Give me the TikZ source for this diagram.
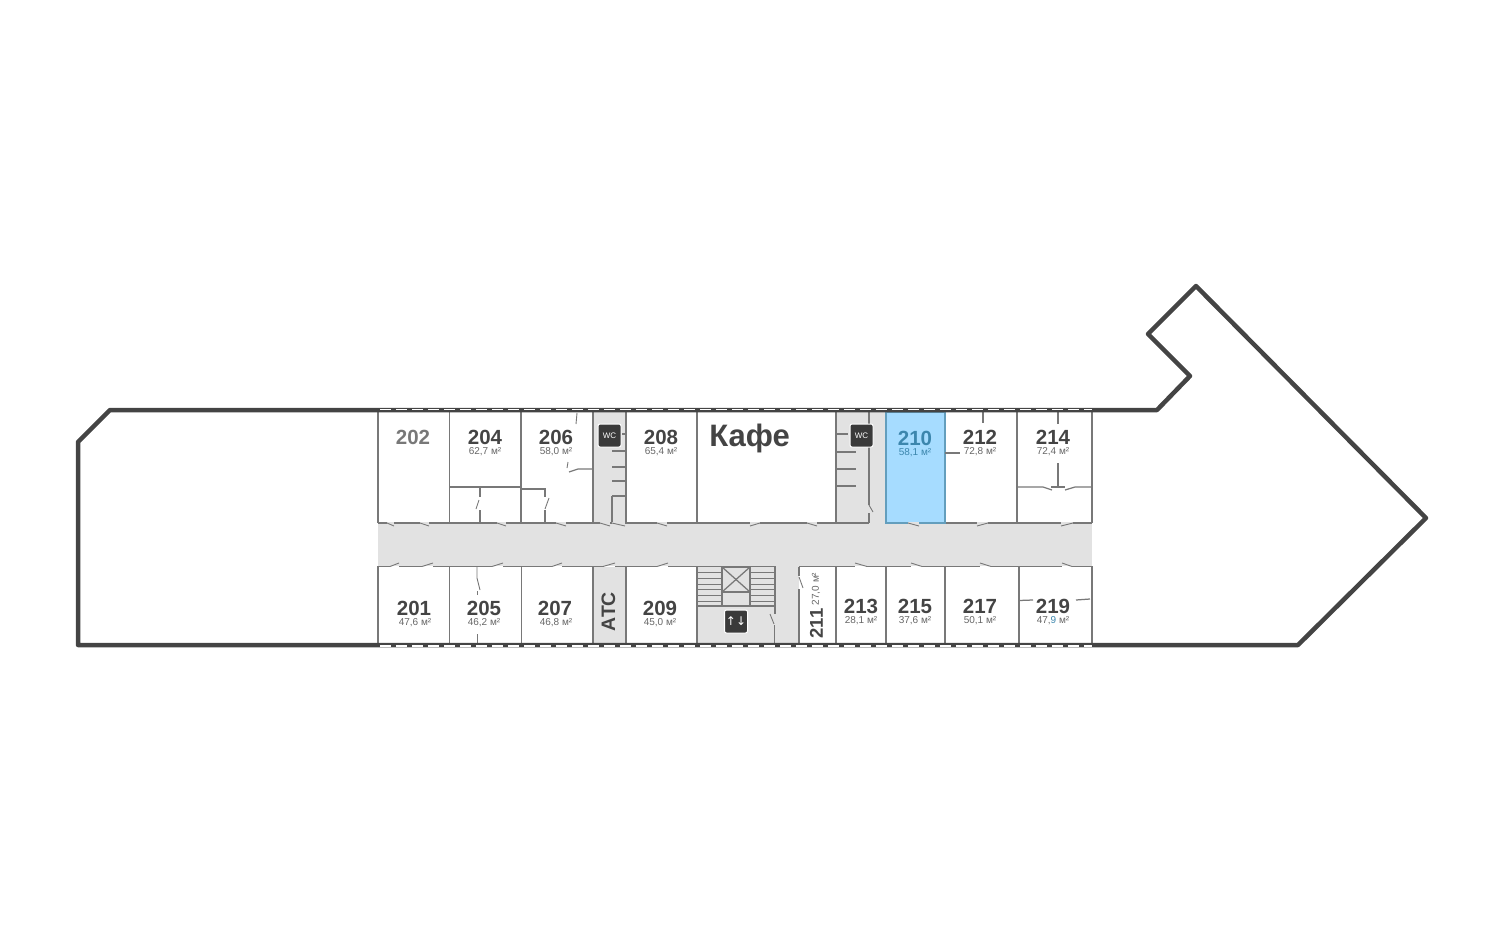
\documentclass[tikz,border=0pt]{standalone}
\usepackage{fontspec}
\setmainfont{Liberation Sans}
\newfontfamily\arrowfont{DejaVu Sans}
\definecolor{wallgray}{HTML}{787878}
\definecolor{areagray}{HTML}{666666}
\definecolor{outline}{HTML}{444444}
\definecolor{corridor}{HTML}{E2E2E2}
\definecolor{roomblue}{HTML}{A6DCFF}
\definecolor{textblue}{HTML}{3C86AD}
\definecolor{icondark}{HTML}{3A3A3A}
\begin{document}
\begin{tikzpicture}[x=1pt, y=-1pt]
			% Define styles
			\tikzstyle{wall} = [draw=wallgray, line width=1.25pt]
			\tikzstyle{thinwall} = [draw=wallgray, line width=0.9pt]
			\tikzstyle{outer} = [draw=outline, line width=4.5pt, line join=round, line cap=round]
			\tikzstyle{glass} = [draw=white, line width=1.7pt, dash pattern=on 11pt off 5pt]
			\tikzstyle{number} = [anchor=base, inner sep=0pt, text=outline, font=\bfseries\fontsize{20.5}{20}\selectfont]
			\tikzstyle{area} = [anchor=base, inner sep=0pt, text=areagray, font=\fontsize{10}{10}\selectfont]
			\tikzstyle{badge} = [rectangle, rounded corners=2pt, minimum size=23pt, inner sep=0pt, fill=icondark, draw=white, line width=1pt, text=white]
			\useasboundingbox (0,0) rectangle (1500,950);
			
			% Grey floors
			\fill[corridor] (378,523) rectangle (1092,566);
			\fill[corridor] (593,412) rectangle (626,523);
			\fill[corridor] (836,412) rectangle (886,523);
			\fill[corridor] (593,566) rectangle (626,643);
			\fill[corridor] (697,566) rectangle (799,643);
			\fill[roomblue] (886,412) rectangle (945,523);
			
			% Room walls
			\foreach \xpos in {378,449.5,521,593,626,697,836,886,945,1017,1092}
				\draw[wall] (\xpos,412) -- (\xpos,523);
			\foreach \xpos in {378,449.5,521.5,593,626,697,836,886,945,1019,1092}
				\draw[wall] (\xpos,566) -- (\xpos,643);
			\draw[wall] (378,523) -- (869,523);
			\draw[wall] (886,523) -- (1092,523);
			\draw[wall] (378,566.5) -- (775,566.5);
			\draw[wall] (799,566.5) -- (1092,566.5);
			\draw[draw=textblue!80, line width=1.25pt] (886,412) rectangle (945,523);
			
			% Doors in the corridor
			\foreach \xa/\xb in {387/394,420/429,497/506,556/566,600/610,612/625,657/667,760/750,807/817,908/919,988/977,1073/1061}{
				\draw[draw=corridor, line width=1.8pt] (\xa,523) -- (\xb,523);
				\draw[thinwall] (\xa,523) -- (\xb,526);
			}
			\foreach \xa/\xb in {390/399,422/433,492/503,552/562,603/615,657/668,867/855,922/911,991/980,1072/1062}{
				\draw[draw=white, line width=1.8pt] (\xa,566.5) -- (\xb,566.5);
				\draw[thinwall] (\xa,566.5) -- (\xb,563);
			}
			
			% Inner walls, top row
			\draw[wall] (449.5,487) -- (521,487);
			\draw[wall] (480,487) -- (480,497);
			\draw[thinwall] (479,500) -- (476,509);
			\draw[wall] (480,510) -- (480,523);
			\draw[wall] (521,489) -- (545,489) -- (545,497);
			\draw[thinwall] (549,498) -- (545,509);
			\draw[wall] (545,510) -- (545,523);
			\draw[thinwall] (577,413) -- (576,424);
			\draw[thinwall] (568,462) -- (567,468);
			\draw[wall] (569,472) -- (578,469) -- (593,469);
			\foreach \ypos in {451,467,481,496}
				\draw[wall] (612,\ypos) -- (626,\ypos);
			\draw[wall] (612,496) -- (612,522);
			\draw[wall] (622,434) -- (626,434);
			\draw[wall] (837,434) -- (848,434);
			\foreach \ypos in {452,469,486}
				\draw[wall] (837,\ypos) -- (856,\ypos);
			\draw[wall] (869,412) -- (869,505);
			\draw[thinwall] (869,505) -- (873,512);
			\draw[wall] (869,513) -- (869,523);
			\draw[wall] (983,412) -- (983,423);
			\draw[wall] (945,453) -- (960,453);
			\draw[wall] (1058,412) -- (1058,424);
			\draw[wall] (1058,463) -- (1058,487);
			\draw[wall] (1017,487) -- (1043,487) -- (1052,490);
			\draw[wall] (1051,487) -- (1065,487);
			\draw[wall] (1065,490) -- (1075,487) -- (1092,487);
			
			% Inner walls, bottom row
			\draw[thinwall] (477,567) -- (477,578) -- (480,590);
			\draw[thinwall] (477,591) -- (477,595);
			\draw[thinwall] (477,634) -- (477,643);
			\draw[wall] (1019,600.5) -- (1033,600);
			\draw[wall] (1076,600) -- (1090,599);
			\draw[wall] (799,567) -- (799,576);
			\draw[thinwall] (799,577) -- (803,588);
			\draw[wall] (799,589) -- (799,643);
			\draw[wall] (775,566) -- (775,614);
			\draw[thinwall] (770,614) -- (774,624);
			\draw[wall] (774.5,625) -- (774.5,643);
			
			% Stairs
			\foreach \ypos in {572,578,584,589,595,601,606}{
				\draw[thinwall] (697,\ypos) -- (722,\ypos);
				\draw[thinwall] (750,\ypos) -- (775,\ypos);
			}
			\draw[wall] (697,606) -- (775,606);
			\draw[wall] (722,567) rectangle (750,592);
			\draw[wall] (722,567) -- (750,592);
			\draw[wall] (750,567) -- (722,592);
			\draw[wall] (722,592) -- (722,606);
			\draw[wall] (750,592) -- (750,606);
			
			% Outer walls
			\draw[outer] (110,410) -- (1157,410) -- (1190,376) -- (1148,334) -- (1196,286) -- (1426,518) -- (1298,645) -- (78,645) -- (78,442) -- cycle;
			\draw[glass] (380,409.4) -- (1092,409.4);
			\draw[glass] (380,646) -- (1092,646);
			
			% Nodes
			\node (room202) [number, text=wallgray] at (413,444) {202};
			\node (room204) [number] at (485,444) {204};
			\node (area204) [area] at (485,454.5) {62,7 м²};
			\node (room206) [number] at (556,444) {206};
			\node (area206) [area] at (556,454.5) {58,0 м²};
			\node (room208) [number] at (661,444) {208};
			\node (area208) [area] at (661,454.5) {65,4 м²};
			\node (cafe) [number, font=\bfseries\fontsize{31}{31}\selectfont] at (749.5,446) {Кафе};
			\node (room210) [number, text=textblue] at (915,445) {210};
			\node (area210) [area, text=textblue] at (915,455) {58,1 м²};
			\node (room212) [number] at (980,444) {212};
			\node (area212) [area] at (980,454.5) {72,8 м²};
			\node (room214) [number] at (1053,444) {214};
			\node (area214) [area] at (1053,454.5) {72,4 м²};
			\node (room201) [number] at (414,615.5) {201};
			\node (area201) [area] at (415,625.7) {47,6 м²};
			\node (room205) [number] at (484,615.5) {205};
			\node (area205) [area] at (484,625.7) {46,2 м²};
			\node (room207) [number] at (555,615.5) {207};
			\node (area207) [area] at (556,625.7) {46,8 м²};
			\node (atc) [number, anchor=center, rotate=90, font=\bfseries\fontsize{19.5}{20}\selectfont] at (608.5,611.5) {АТС};
			\node (room209) [number] at (660,615.5) {209};
			\node (area209) [area] at (660,625.7) {45,0 м²};
			\node (room211) [number, anchor=center, rotate=90, font=\bfseries\fontsize{18.5}{20}\selectfont] at (816.5,623.5) {211};
			\node (area211) [area, anchor=center, rotate=90] at (816,589) {27,0 м²};
			\node (room213) [number] at (861,613) {213};
			\node (area213) [area] at (861,623) {28,1 м²};
			\node (room215) [number] at (915,613) {215};
			\node (area215) [area] at (915,623) {37,6 м²};
			\node (room217) [number] at (980,613) {217};
			\node (area217) [area] at (980,623) {50,1 м²};
			\node (room219) [number] at (1053,613) {219};
			\node (area219) [area] at (1053,623) {47,\textcolor{textblue}{9} м²};
			\node (wcleft) [badge, font=\fontsize{8}{8}\selectfont] at (609.5,435.5) {WC};
			\node (wcright) [badge, font=\fontsize{8}{8}\selectfont] at (861.5,435.5) {WC};
			\node (lift) [badge, font=\arrowfont\fontsize{12}{12}\selectfont] at (736,621.5) {↑↓};
		\end{tikzpicture}
\end{document}
